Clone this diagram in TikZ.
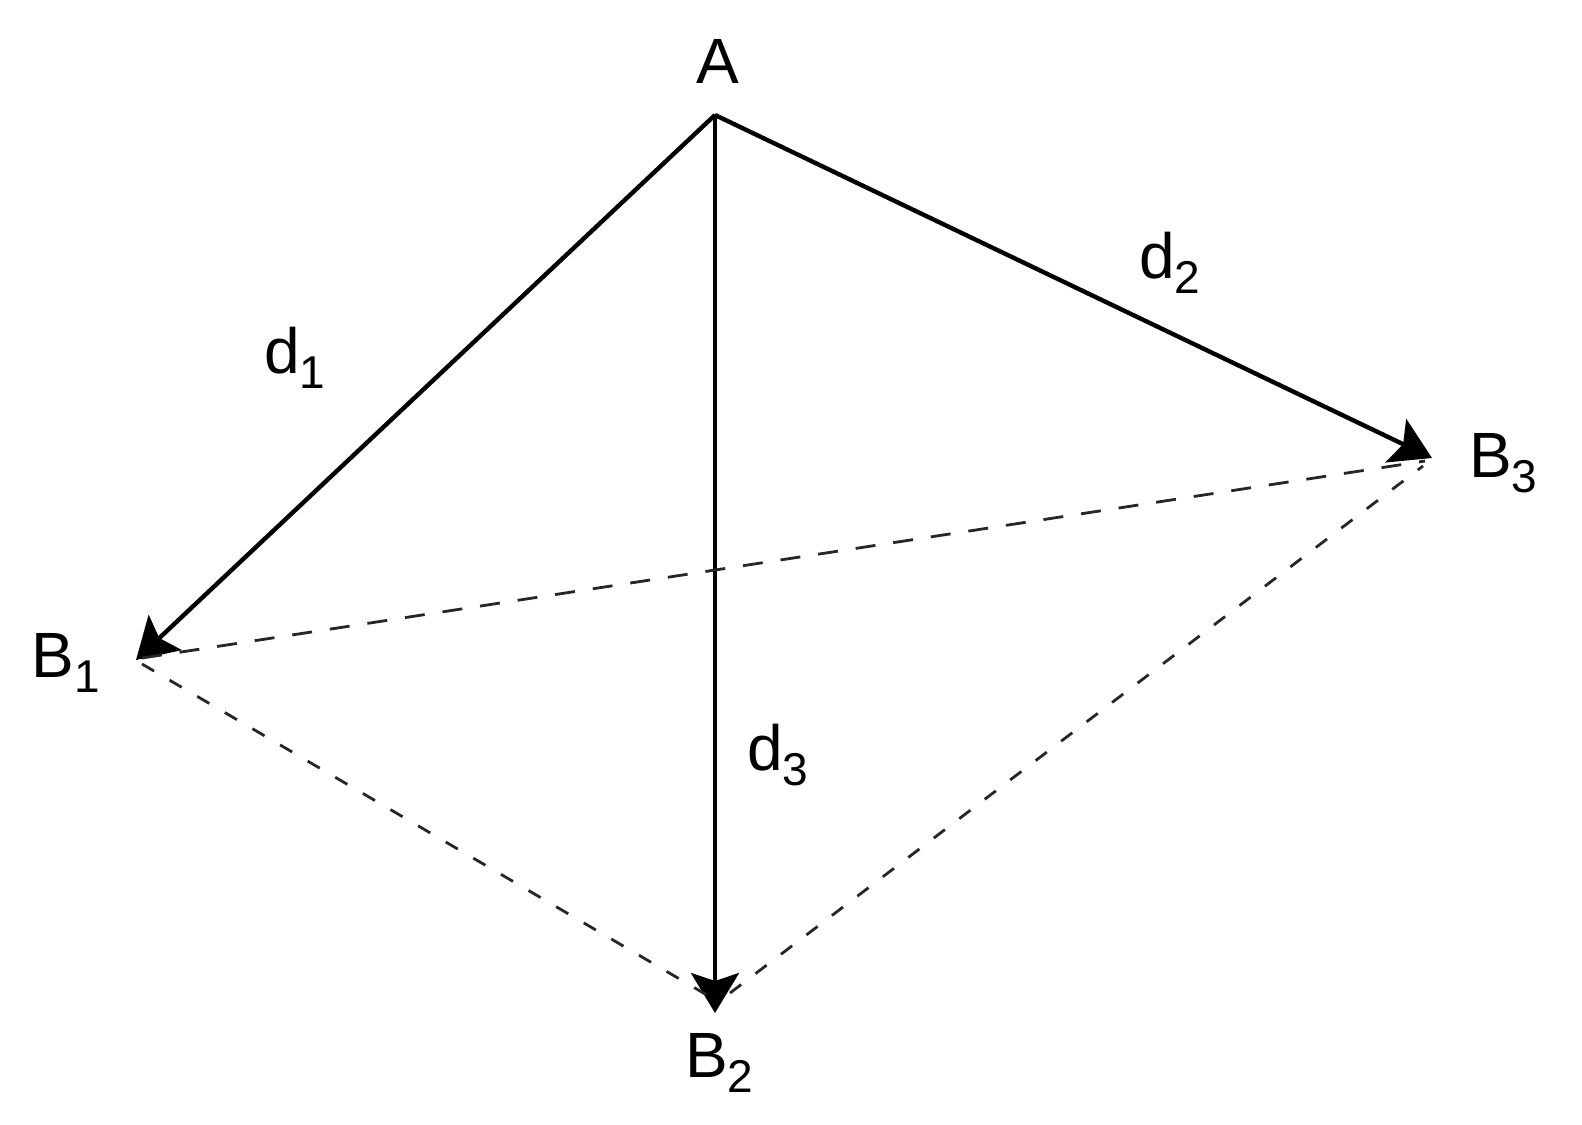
\documentclass[tikz,border=0pt]{standalone}
\usepackage{fontspec}
\setmainfont{Liberation Sans}
\usetikzlibrary{arrows.meta}

\newcommand{\lblsub}[1]{\raisebox{-3.75pt}{\fontsize{11.5}{13}\selectfont #1}}

\tikzset{every picture/.style={line width=1pt}}
\tikzset{
  vec/.style={draw=black, line width=1.1pt, -{Stealth[length=10pt,width=12pt,inset=2pt]}},
  longdash/.style={draw=black!85, line width=0.7pt, dash pattern={on 5pt off 4.5pt}},
  shortdash/.style={draw=black!85, line width=0.7pt, dash pattern={on 3.5pt off 4.5pt}},
  lbl/.style={anchor=base west, inner sep=0pt, font=\fontsize{16}{19}\selectfont}
}

\begin{document}
\begin{tikzpicture}[x=0.25pt,y=0.25pt,yscale=-1]
\useasboundingbox (0,0) rectangle (1582,1124);

%Points
\coordinate (pA) at (715,115);
\coordinate (pB1) at (136,660);
\coordinate (pB2) at (715,1013);
\coordinate (pB3) at (1432,458);
\coordinate (qB1) at (142,658);
\coordinate (rB1) at (142,664);
\coordinate (qB2) at (712,998);
\coordinate (rB2) at (730,993);
\coordinate (qB3) at (1425,461);
\coordinate (rB3) at (1423,466);

%Straight Lines
\draw [vec] (pA) -- (pB1);
%Straight Lines
\draw [vec] (pA) -- (pB3);
%Straight Lines
\draw [vec] (pA) -- (pB2);
%Dashed Lines
\draw [longdash] (qB1) -- (qB3);
%Dashed Lines
\draw [shortdash] (rB1) -- (qB2);
%Dashed Lines
\draw [shortdash] (rB2) -- (rB3);

% Text Node
\draw (694,83) node [lbl] (A) {A};
% Text Node
\draw (30,677) node [lbl] (B1) {B\lblsub{1}};
% Text Node
\draw (683,1077) node [lbl] (B2) {B\lblsub{2}};
% Text Node
\draw (1467,477) node [lbl] (B3) {B\lblsub{3}};
% Text Node
\draw (262,373) node [lbl] (d1) {d\lblsub{1}};
% Text Node
\draw (1137,278) node [lbl] (d2) {d\lblsub{2}};
% Text Node
\draw (745,770) node [lbl] (d3) {d\lblsub{3}};

\end{tikzpicture}
\end{document}
